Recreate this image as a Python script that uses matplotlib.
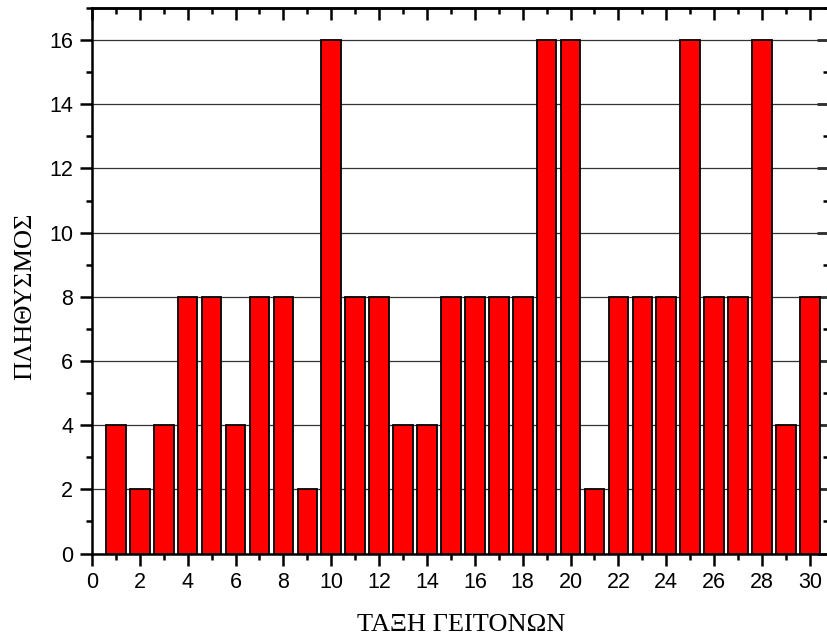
import numpy as np
from matplotlib import pyplot as plt
from matplotlib.ticker import MultipleLocator

# neighbour class vs population
classes = list(range(1, 31))
counts = [4, 2, 4, 8, 8, 4, 8, 8, 2, 16,
          8, 8, 4, 4, 8, 8, 8, 8, 16, 16,
          2, 8, 8, 8, 16, 8, 8, 16, 4, 8]
x_label = "ΤΑΞΗ ΓΕΙΤΟΝΩΝ"
y_label = "ΠΛΗΘΥΣΜΟΣ"

fig = plt.figure(figsize=(8.27, 6.38), dpi=100)
ax = fig.add_axes([0.1112, 0.1324, 0.8912, 0.855])

ax.bar(classes, counts, width=0.82, color='#ff0000', edgecolor='black',
       linewidth=1.3, zorder=3)

ax.set_xlim(0, 30.8)
ax.set_ylim(0, 17)
ax.yaxis.grid(True, color='#333333', linewidth=0.9, zorder=0)
ax.set_axisbelow(True)

ax.xaxis.set_major_locator(MultipleLocator(2))
ax.xaxis.set_minor_locator(MultipleLocator(1))
ax.yaxis.set_major_locator(MultipleLocator(2))
ax.yaxis.set_minor_locator(MultipleLocator(1))

for s in ax.spines.values():
    s.set_linewidth(1.8)

ax.tick_params(which='both', direction='out', width=1.8, top=False, right=False,
               labelsize=15.5, pad=5)
ax.tick_params(which='major', length=8.5)
ax.tick_params(which='minor', length=4.5)
for lab in ax.get_xticklabels() + ax.get_yticklabels():
    lab.set_family('Liberation Sans')

# inward ticks on top and right
ax_top = ax.secondary_xaxis('top')
ax_top.xaxis.set_major_locator(MultipleLocator(2))
ax_top.xaxis.set_minor_locator(MultipleLocator(1))
ax_top.tick_params(which='both', direction='in', width=1.8, labeltop=False)
ax_top.tick_params(which='major', length=8.5)
ax_top.tick_params(which='minor', length=4.5)
ax_top.spines['top'].set_linewidth(1.8)

ax_r = ax.secondary_yaxis('right')
ax_r.yaxis.set_major_locator(MultipleLocator(2))
ax_r.yaxis.set_minor_locator(MultipleLocator(1))
ax_r.tick_params(which='both', direction='in', width=1.8, labelright=False)
ax_r.tick_params(which='major', length=8.5)
ax_r.tick_params(which='minor', length=4.5)

fig.text(0.558, 0.024, x_label, ha='center', va='center_baseline',
         family='Liberation Serif', fontsize=19)
fig.text(0.03, 0.535, y_label, ha='center', va='center', rotation=90,
         family='Liberation Serif', fontsize=19)

plt.savefig('out.png', dpi=100)
